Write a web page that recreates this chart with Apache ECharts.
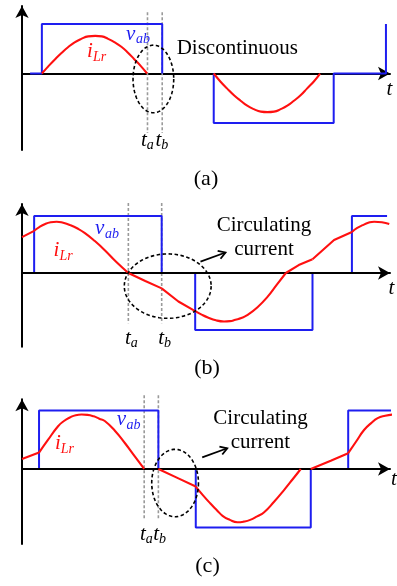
<!DOCTYPE html>
<html>
<head>
<meta charset="utf-8">
<script src="https://cdn.jsdelivr.net/npm/echarts@6/dist/echarts.min.js"></script>
<style>
  html, body { margin: 0; padding: 0; background: #fff; }
  #chart { width: 397px; height: 586px; }
</style>
</head>
<body>
<div id="chart"></div>
<script>
// Time runs 0–100 along each panel's t axis; amplitudes are normalised to the v_ab step (±1).

// (a) discontinuous current
const vabA = [
  [[2.2, 0], [5.4, 0], [5.4, 1], [38.1, 1], [38.1, 0]],
  [[52.1, 0], [52.1, -1], [84.7, -1], [84.7, 0], [98.9, 0], [98.9, 1]]
];
const iLrA = [
  [[5.4, 0], [7.2, 0.15], [9.0, 0.29], [10.8, 0.42], [12.5, 0.53], [14.3, 0.63], [16.1, 0.70], [18.0, 0.75], [19.9, 0.76],
   [21.7, 0.75], [23.4, 0.70], [25.2, 0.63], [27.0, 0.54], [28.8, 0.42], [30.5, 0.29], [32.3, 0.15], [34.0, 0]],
  [[52.1, 0], [53.9, -0.16], [55.7, -0.30], [57.6, -0.44], [59.4, -0.55], [61.2, -0.65], [63.0, -0.72], [64.9, -0.77], [66.7, -0.78],
   [68.5, -0.77], [70.3, -0.72], [72.1, -0.65], [73.9, -0.55], [75.7, -0.44], [77.5, -0.30], [79.3, -0.16], [81.0, 0]]
];
const tMarksA = [34.1, 38.1];
const markSpanA = [1.24, -1.20];
const ellipseA = [35.7, -0.11, 5.53, 0.683];

// (b) circulating current, long interval
const vabB = [
  [[0, 0], [3.3, 0], [3.3, 1], [37.96, 1], [37.96, 0], [47.06, 0], [47.06, -1], [78.94, -1], [78.94, 0], [89.65, 0], [89.65, 1], [99.2, 1]]
];
const iLrB = [
  [[0, 0.63], [3.3, 0.74]],
  [[3.3, 0.74], [4.8, 0.81], [6.3, 0.86], [7.8, 0.89], [9.4, 0.90], [11.2, 0.88], [13.1, 0.84], [15.1, 0.78], [17.1, 0.70],
   [19.8, 0.56], [22.5, 0.40], [25.5, 0.20], [28.9, 0]],
  [[28.9, 0], [33.5, -0.14], [37.96, -0.27]],
  [[37.96, -0.27], [42.5, -0.50], [47.06, -0.67]],
  [[47.06, -0.67], [48.8, -0.73], [50.5, -0.78], [52.7, -0.83], [54.9, -0.85], [56.5, -0.845], [58.0, -0.82], [59.6, -0.79],
   [61.2, -0.74], [64.0, -0.60], [66.7, -0.42], [69.2, -0.21], [71.7, 0]],
  [[71.7, 0], [75.2, 0.14], [78.94, 0.24]],
  [[78.94, 0.24], [84.8, 0.58], [89.65, 0.72]],
  [[89.65, 0.72], [91.1, 0.79], [92.6, 0.84], [94.1, 0.88], [95.7, 0.90], [97.8, 0.89], [99.8, 0.86]]
];
const tMarksB = [28.9, 37.96];
const markSpanB = [1.23, -0.88];
const ellipseB = [39.6, -0.23, 11.8, 0.565];
const arrowB = [48.5, 0.20, 55.3, 0.36];

// (c) circulating current, short interval
const vabC = [
  [[0, 0], [4.63, 0], [4.63, 1], [37.06, 1], [37.06, 0], [47.22, 0], [47.22, -1], [78.47, -1], [78.47, 0], [88.64, 0], [88.64, 1], [100.7, 1]]
];
const iLrC = [
  [[0, 0.17], [4.63, 0.28]],
  [[4.63, 0.28], [7.1, 0.50], [9.8, 0.73], [11.4, 0.82], [13.0, 0.88], [14.6, 0.92], [16.2, 0.93], [17.8, 0.925], [19.5, 0.90],
   [21.0, 0.86], [22.5, 0.82], [25.3, 0.65], [28.0, 0.44], [30.6, 0.22], [33.2, 0]],
  [[33.2, 0], [37.06, 0]],
  [[37.06, 0], [42.5, -0.16], [47.22, -0.30]],
  [[47.22, -0.30], [49.2, -0.45], [51.2, -0.59], [52.9, -0.70], [54.5, -0.80], [56.5, -0.87], [58.5, -0.91], [60.2, -0.90],
   [62.0, -0.87], [63.9, -0.81], [65.8, -0.74], [68.5, -0.56], [71.2, -0.36], [73.5, -0.18], [75.75, 0]],
  [[75.75, 0], [78.47, 0]],
  [[78.47, 0], [83.9, 0.14], [88.64, 0.27]],
  [[88.64, 0.27], [90.8, 0.47], [93.0, 0.67], [94.8, 0.78], [96.65, 0.87], [98.7, 0.91], [100.7, 0.93]]
];
const tMarksC = [33.2, 37.06];
const markSpanC = [1.26, -0.87];
const ellipseC = [41.6, -0.24, 6.35, 0.576];
const arrowC = [48.97, 0.20, 55.78, 0.354];

const BLUE = '#1e1ef0';
const RED = '#ff1010';
const SERIF = '"Liberation Serif", "Times New Roman", serif';

const panels = [
  { grid: { left: 22, right: 7, top: 6, height: 144 }, y: [-1.545, 1.364],
    vab: vabA, ilr: iLrA, marks: tMarksA, span: markSpanA, ellipse: ellipseA, arrow: null, axisOnTop: false },
  { grid: { left: 22, right: 7, top: 204, height: 142.7 }, y: [-1.293, 1.2105],
    vab: vabB, ilr: iLrB, marks: tMarksB, span: markSpanB, ellipse: ellipseB, arrow: arrowB, axisOnTop: true },
  { grid: { left: 22, right: 7, top: 399.3, height: 144.7 }, y: [-1.282, 1.191],
    vab: vabC, ilr: iLrC, marks: tMarksC, span: markSpanC, ellipse: ellipseC, arrow: arrowC, axisOnTop: true }
];

function renderEllipse(params, api) {
  const c = api.coord([api.value(0), api.value(1)]);
  const s = api.size([api.value(2), api.value(3)]);
  const pts = [];
  for (let k = 0; k <= 96; k++) {
    const a = (k / 96) * Math.PI * 2;
    pts.push([c[0] + s[0] * Math.cos(a), c[1] + s[1] * Math.sin(a)]);
  }
  return {
    type: 'polyline',
    shape: { points: pts },
    style: { fill: null, stroke: '#000', lineWidth: 1.6, lineDash: [3.5, 2.5] }
  };
}

function renderArrow(params, api) {
  const p0 = api.coord([api.value(0), api.value(1)]);
  const p1 = api.coord([api.value(2), api.value(3)]);
  const ang = Math.atan2(p1[1] - p0[1], p1[0] - p0[0]);
  const h = 8, spread = 0.55;
  const l = [p1[0] - h * Math.cos(ang - spread), p1[1] - h * Math.sin(ang - spread)];
  const r = [p1[0] - h * Math.cos(ang + spread), p1[1] - h * Math.sin(ang + spread)];
  return {
    type: 'group',
    children: [
      { type: 'line', shape: { x1: p0[0], y1: p0[1], x2: p1[0], y2: p1[1] }, style: { stroke: '#000', lineWidth: 1.8 } },
      { type: 'polyline', shape: { points: [l, p1, r] }, style: { stroke: '#000', lineWidth: 1.8, fill: null } }
    ]
  };
}

const grids = [], xAxes = [], yAxes = [], series = [];
panels.forEach((p, i) => {
  grids.push(p.grid);
  xAxes.push({
    type: 'value', gridIndex: i, min: 0, max: 100, z: p.axisOnTop ? 3 : 0,
    axisLine: { show: true, onZero: true, symbol: ['none', 'arrow'], symbolSize: [10, 12],
      lineStyle: { color: '#000', width: 2 } },
    axisTick: { show: false }, axisLabel: { show: false }, splitLine: { show: false }
  });
  yAxes.push({
    type: 'value', gridIndex: i, min: p.y[0], max: p.y[1],
    axisLine: { show: true, onZero: false, symbol: ['none', 'arrow'], symbolSize: [10, 12],
      lineStyle: { color: '#000', width: 2 } },
    axisTick: { show: false }, axisLabel: { show: false }, splitLine: { show: false }
  });
  // t_a / t_b guide lines
  p.marks.forEach(t => {
    series.push({
      type: 'line', xAxisIndex: i, yAxisIndex: i, z: 1, symbol: 'none', silent: true, clip: false,
      data: [[t, p.span[0]], [t, p.span[1]]],
      lineStyle: { color: '#9a9a9a', width: 1.6, type: [3, 2] }
    });
  });
  // bridge voltage v_ab
  p.vab.forEach(seg => {
    series.push({
      type: 'line', xAxisIndex: i, yAxisIndex: i, z: 2, symbol: 'none', clip: false,
      data: seg, lineStyle: { color: BLUE, width: 2 }
    });
  });
  // resonant current i_Lr
  p.ilr.forEach(seg => {
    const flat = seg.every(v => v[1] === 0);
    series.push({
      type: 'line', xAxisIndex: i, yAxisIndex: i, z: flat ? 2 : 4, symbol: 'none', clip: false,
      smooth: seg.length > 3 ? 0.5 : false,
      data: seg, lineStyle: { color: RED, width: 2.1 }
    });
  });
  series.push({
    type: 'custom', xAxisIndex: i, yAxisIndex: i, z: 5, silent: true,
    renderItem: renderEllipse, encode: { x: 0, y: 1 }, data: [p.ellipse]
  });
  if (p.arrow) {
    series.push({
      type: 'custom', xAxisIndex: i, yAxisIndex: i, z: 5, silent: true,
      renderItem: renderArrow, encode: { x: [0, 2], y: [1, 3] }, data: [p.arrow]
    });
  }
});

// text placed by its alphabetic baseline
function txt(str, x, baseline, size, color, italic, align) {
  return {
    type: 'text', x: x, y: baseline - 0.33 * size, z: 10,
    style: {
      text: str, fill: color || '#000',
      font: (italic ? 'italic ' : '') + size + 'px ' + SERIF,
      textAlign: align || 'left', textVerticalAlign: 'middle',
      align: align || 'left', verticalAlign: 'middle'
    }
  };
}

const graphics = [
  // (a)
  txt('v', 126, 41, 21, BLUE, true), txt('ab', 136, 43.5, 14, BLUE, true),
  txt('i', 87, 58.5, 21, RED, true), txt('Lr', 93, 62, 14, RED, true),
  txt('Discontinuous', 176.7, 55.7, 21),
  txt('t', 386.5, 96.5, 21, '#000', true),
  txt('t', 141, 147.5, 21, '#000', true), txt('a', 146.8, 150, 14, '#000', true),
  txt('t', 155.5, 147.5, 21, '#000', true), txt('b', 161.3, 150, 14, '#000', true),
  txt('(a)', 206, 186, 22, '#000', false, 'center'),
  // (b)
  txt('v', 95, 235.5, 21, BLUE, true), txt('ab', 105, 238.5, 14, BLUE, true),
  txt('i', 53.5, 257, 21, RED, true), txt('Lr', 59.5, 260.5, 14, RED, true),
  txt('Circulating', 216.7, 232.3, 21),
  txt('current', 234.3, 256, 21),
  txt('t', 388.5, 295, 21, '#000', true),
  txt('t', 125, 345, 21, '#000', true), txt('a', 130.8, 347.5, 14, '#000', true),
  txt('t', 158.3, 345, 21, '#000', true), txt('b', 164.1, 347.5, 14, '#000', true),
  txt('(b)', 207, 375, 22, '#000', false, 'center'),
  // (c)
  txt('v', 116.7, 426.7, 21, BLUE, true), txt('ab', 126.5, 430, 14, BLUE, true),
  txt('i', 55, 450.7, 21, RED, true), txt('Lr', 60.8, 454, 14, RED, true),
  txt('Circulating', 213.3, 425, 21),
  txt('current', 230.7, 449.3, 21),
  txt('t', 391, 486.5, 21, '#000', true),
  txt('t', 140, 541.7, 21, '#000', true), txt('a', 145.8, 544, 14, '#000', true),
  txt('t', 153.3, 541.7, 21, '#000', true), txt('b', 159.1, 544, 14, '#000', true),
  txt('(c)', 207.5, 573.3, 22, '#000', false, 'center')
];

const chart = echarts.init(document.getElementById('chart'), null, { renderer: 'canvas' });
chart.setOption({
  animation: false,
  backgroundColor: '#fff',
  grid: grids,
  xAxis: xAxes,
  yAxis: yAxes,
  series: series,
  graphic: graphics
});
</script>
</body>
</html>
